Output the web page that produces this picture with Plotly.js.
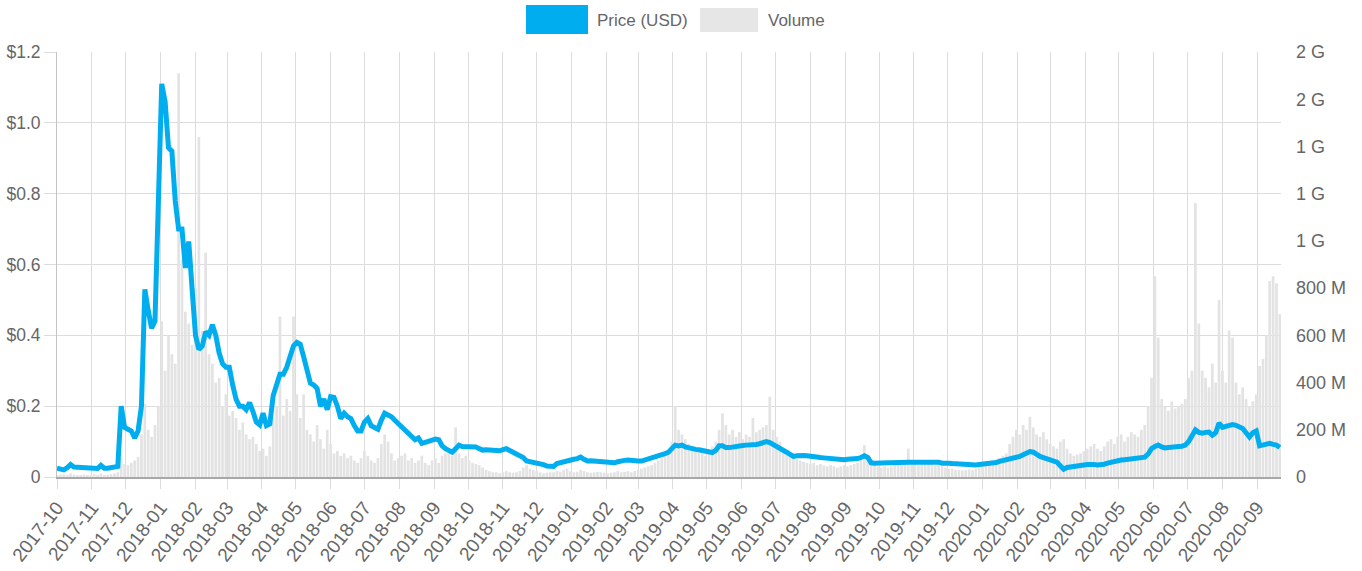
<!DOCTYPE html>
<html>
<head>
<meta charset="utf-8">
<script src="https://cdn.plot.ly/plotly-3.0.1.min.js"></script>
<style>
html,body{margin:0;padding:0;background:#fff;}
#chart{width:1362px;height:571px;}
</style>
</head>
<body>
<div id="chart"></div>
<script>
// Series start date and sampling step (days) of the readings
const startDate = '2017-10-01';
const stepDays = 3;

// Price in USD, every 3 days
const price = [
0.025,0.022,0.02,0.026,0.035,0.028,0.027,0.027,0.028,0.026,
0.024,0.022,0.024,0.033,0.025,0.025,0.026,0.026,0.03,0.2,
0.14,0.135,0.13,0.11,0.13,0.2,0.53,0.47,0.42,0.44,
0.725,1.11,1.06,0.93,0.92,0.78,0.70,0.70,0.59,0.665,
0.53,0.40,0.36,0.37,0.41,0.40,0.43,0.40,0.35,0.32,
0.31,0.31,0.26,0.22,0.20,0.20,0.19,0.21,0.185,0.155,
0.147,0.18,0.145,0.15,0.23,0.26,0.29,0.29,0.31,0.34,
0.37,0.38,0.375,0.34,0.30,0.265,0.26,0.25,0.20,0.22,
0.19,0.227,0.225,0.20,0.165,0.18,0.17,0.165,0.145,0.13,
0.13,0.155,0.165,0.145,0.14,0.135,0.16,0.18,0.175,0.17,
0.16,0.15,0.14,0.13,0.124,0.11,0.105,0.11,0.095,0.098,
0.1,0.105,0.107,0.105,0.088,0.08,0.074,0.07,0.08,0.09,
0.086,0.085,0.085,0.086,0.085,0.08,0.076,0.077,0.076,0.076,
0.075,0.074,0.077,0.08,0.075,0.07,0.067,0.063,0.055,0.045,
0.043,0.043,0.041,0.039,0.035,0.031,0.029,0.03,0.038,0.041,
0.043,0.046,0.048,0.05,0.052,0.056,0.05,0.045,0.046,0.045,
0.045,0.045,0.043,0.042,0.041,0.04,0.043,0.046,0.047,0.048,
0.046,0.045,0.045,0.045,0.048,0.05,0.052,0.054,0.058,0.062,
0.066,0.07,0.082,0.09,0.088,0.09,0.085,0.082,0.08,0.078,
0.077,0.075,0.072,0.07,0.069,0.075,0.088,0.088,0.083,0.083,
0.085,0.087,0.09,0.089,0.09,0.09,0.09,0.092,0.094,0.096,
0.1,0.097,0.092,0.088,0.083,0.078,0.07,0.064,0.058,0.06,
0.062,0.061,0.06,0.058,0.057,0.056,0.055,0.054,0.053,0.052,
0.05,0.049,0.048,0.049,0.05,0.05,0.05,0.052,0.055,0.06,
0.055,0.04,0.039,0.04,0.04,0.041,0.04,0.04,0.041,0.04,
0.04,0.041,0.042,0.042,0.042,0.043,0.044,0.044,0.045,0.045,
0.045,0.042,0.039,0.04,0.039,0.038,0.037,0.037,0.036,0.035,
0.035,0.034,0.034,0.035,0.036,0.036,0.037,0.039,0.041,0.044,
0.046,0.048,0.05,0.052,0.055,0.058,0.063,0.068,0.072,0.07,
0.062,0.058,0.055,0.051,0.048,0.045,0.042,0.032,0.022,0.027,
0.029,0.03,0.032,0.033,0.034,0.035,0.036,0.035,0.034,0.034,
0.036,0.039,0.042,0.045,0.047,0.048,0.049,0.05,0.052,0.053,
0.054,0.055,0.056,0.065,0.08,0.086,0.09,0.085,0.082,0.083,
0.085,0.085,0.086,0.087,0.09,0.1,0.12,0.133,0.126,0.124,
0.126,0.127,0.118,0.125,0.152,0.14,0.143,0.147,0.148,0.146,
0.142,0.137,0.125,0.113,0.125,0.13,0.088,0.09,0.093,0.095,
0.092,0.09,0.083
];

// Volume in millions of USD, every 3 days
const volumeM = [
8,10,12,9,15,10,8,9,10,9,
8,12,10,15,9,10,12,15,20,80,
55,50,60,70,85,180,310,200,170,220,
300,660,450,600,520,480,1710,920,700,650,
560,800,1440,620,950,520,480,400,420,300,
350,260,280,250,200,230,180,160,170,140,
110,120,90,130,250,300,680,260,330,280,
680,350,250,350,200,180,150,220,160,120,
200,140,100,110,90,100,80,90,70,60,
80,110,90,70,60,80,140,180,150,100,
70,80,90,100,70,80,60,70,90,60,
50,70,80,60,90,100,110,90,210,100,
80,90,70,60,55,50,40,30,25,20,
20,15,20,25,20,18,20,25,40,50,
35,30,25,20,15,18,20,20,25,22,
30,35,25,20,22,30,25,20,18,20,
22,20,18,15,18,20,25,20,22,25,
20,25,30,35,40,45,50,60,70,80,
90,110,150,300,200,180,160,140,130,120,
110,100,90,110,130,150,200,270,220,180,
200,170,190,160,180,170,250,190,200,210,
220,340,200,170,150,120,100,90,80,75,
70,65,60,55,60,50,55,50,45,50,
45,40,45,50,45,50,55,60,80,135,
70,60,50,45,40,45,40,45,50,55,
50,60,120,60,55,50,55,60,65,55,
50,55,45,40,35,35,30,30,28,30,
32,30,35,40,45,50,60,65,70,80,
90,100,140,170,200,180,220,200,255,210,
180,170,190,160,140,130,120,150,160,120,
100,90,95,100,110,120,130,140,120,110,
130,150,160,140,170,180,150,170,190,180,
170,200,220,300,420,850,590,330,300,280,
320,290,300,310,330,420,450,1160,650,450,
420,380,480,400,750,450,400,620,590,400,
350,380,330,300,320,350,470,500,600,830,
850,820,690
];

// Axis ticks
const priceTickVals = [0, 0.2, 0.4, 0.6, 0.8, 1.0, 1.2];
const priceTickText = ['0', '$0.2', '$0.4', '$0.6', '$0.8', '$1.0', '$1.2'];
const volTickValsM = [0, 200, 400, 600, 800, 1000, 1200, 1400, 1600, 1800];
const volTickText = ['0', '200 M', '400 M', '600 M', '800 M', '1 G', '1 G', '1 G', '2 G', '2 G'];
const xRange = ['2017-10-01', '2020-09-22'];
const legendLabels = ['Price (USD)', 'Volume'];

const dayMs = 86400000;
const t0 = Date.parse(startDate + 'T00:00:00Z');
const n = Math.max(price.length, volumeM.length);
const dates = [];
for (let i = 0; i < n; i++) {
  dates.push(new Date(t0 + i * stepDays * dayMs).toISOString().slice(0, 10));
}
const volume = volumeM.map(v => v * 1e6);

const FONT = '"Liberation Sans", Arial, Helvetica, sans-serif';
const BLUE = '#00aeef';
const GRID = '#dcdcdc';
const TXT = '#666666';

const traces = [
  {
    type: 'bar', name: legendLabels[1],
    x: dates.slice(0, volume.length), y: volume,
    xaxis: 'x', yaxis: 'y',
    marker: {color: '#e3e3e3', line: {width: 0}},
    hoverinfo: 'x+y'
  },
  {
    type: 'scatter', mode: 'lines', name: legendLabels[0],
    x: dates.slice(0, price.length), y: price,
    xaxis: 'x', yaxis: 'y2',
    line: {color: BLUE, width: 5, shape: 'linear'},
    hoverinfo: 'x+y'
  }
];

const layout = {
  width: 1362, height: 571,
  margin: {l: 57, r: 81, t: 52, b: 94, pad: 0},
  paper_bgcolor: '#ffffff', plot_bgcolor: '#ffffff',
  showlegend: false,
  bargap: 0.2,
  font: {family: FONT, size: 17, color: TXT},
  xaxis: {
    type: 'date', range: xRange,
    tick0: '2017-10-01', dtick: 'M1', tickformat: '%Y-%m',
    tickangle: -52,
    showgrid: true, gridcolor: GRID, gridwidth: 1,
    ticks: 'outside', ticklen: 10, tickcolor: GRID, tickwidth: 1,
    showline: true, linecolor: '#a8a8a8', linewidth: 2,
    tickfont: {family: FONT, size: 19, color: TXT},
    zeroline: false, fixedrange: true
  },
  yaxis: {
    side: 'right', range: [0, 1800e6],
    tickvals: volTickValsM.map(v => v * 1e6), ticktext: volTickText,
    showgrid: false, zeroline: false, showline: false, ticks: '',
    ticklabelstandoff: 14,
    tickfont: {family: FONT, size: 18, color: TXT},
    fixedrange: true
  },
  yaxis2: {
    overlaying: 'y', side: 'left', range: [0, 1.2],
    tickvals: priceTickVals, ticktext: priceTickText,
    showgrid: true, gridcolor: GRID, gridwidth: 1,
    zeroline: false,
    showline: true, linecolor: '#c4c4c4', linewidth: 1,
    ticks: 'outside', ticklen: 12, tickcolor: GRID, tickwidth: 1,
    tickfont: {family: FONT, size: 17.5, color: TXT},
    fixedrange: true
  },
  shapes: [
    {type: 'rect', xref: 'paper', yref: 'paper',
     x0: (526 - 57) / 1224, x1: (588 - 57) / 1224, y0: (477 - 34) / 425, y1: (477 - 5) / 425,
     fillcolor: BLUE, line: {width: 0}},
    {type: 'rect', xref: 'paper', yref: 'paper',
     x0: (700 - 57) / 1224, x1: (758 - 57) / 1224, y0: (477 - 32) / 425, y1: (477 - 8) / 425,
     fillcolor: '#e6e6e6', line: {width: 0}}
  ],
  annotations: [
    {xref: 'paper', yref: 'paper', x: (595 - 57) / 1224, y: (477 - 20) / 425,
     xanchor: 'left', yanchor: 'middle', showarrow: false, text: legendLabels[0],
     font: {family: FONT, size: 17, color: TXT}},
    {xref: 'paper', yref: 'paper', x: (766 - 57) / 1224, y: (477 - 20) / 425,
     xanchor: 'left', yanchor: 'middle', showarrow: false, text: legendLabels[1],
     font: {family: FONT, size: 17, color: TXT}}
  ]
};

Plotly.newPlot('chart', traces, layout, {displayModeBar: false, staticPlot: true});
</script>
</body>
</html>
